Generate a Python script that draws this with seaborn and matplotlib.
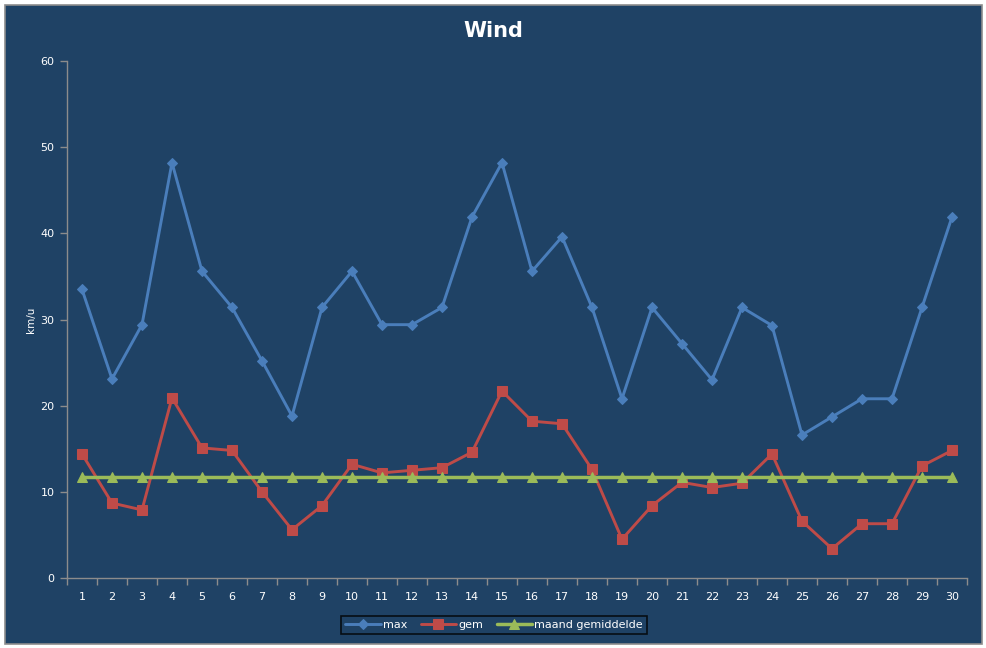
import matplotlib
matplotlib.use("Agg")
import numpy as np
import pandas as pd
import seaborn as sns
from matplotlib import pyplot as plt
from matplotlib.patches import Rectangle
from matplotlib.ticker import FixedLocator

days = list(range(1, 31))
max_wind = [33.5, 23.1, 29.4, 48.2, 35.6, 31.4, 25.2, 18.8, 31.4, 35.6,
            29.4, 29.4, 31.4, 41.9, 48.2, 35.6, 39.6, 31.4, 20.8, 31.4,
            27.2, 23.0, 31.4, 29.3, 16.6, 18.7, 20.8, 20.8, 31.4, 41.9]
gem_wind = [14.4, 8.7, 7.9, 20.9, 15.1, 14.8, 10.0, 5.6, 8.4, 13.2,
            12.2, 12.5, 12.8, 14.6, 21.7, 18.2, 17.9, 12.6, 4.5, 8.4,
            11.1, 10.5, 11.0, 14.4, 6.6, 3.4, 6.3, 6.3, 13.0, 14.8]
maand_gem = [11.7] * 30
y_ticks = [0, 10, 20, 30, 40, 50, 60]

bg = "#1F4265"
txt = "#FFFFFF"
grey = "#8C8C8C"

sns.set_theme(style="white")
plt.rcParams["font.family"] = ["DejaVu Sans"]

fig = plt.figure(figsize=(9.87, 6.48), dpi=100, facecolor="white")
# chart area with grey border, drawn behind the axes
fig.patches.append(Rectangle((5 / 987, 4 / 648), 977 / 987, 639 / 648,
                             transform=fig.transFigure, facecolor=bg,
                             edgecolor=grey, linewidth=1.2, zorder=-10))

ax = fig.add_axes([67 / 987, 1 - 578 / 648, 900 / 987, 517 / 648])
ax.patch.set_alpha(0)

df = pd.DataFrame({"dag": days, "max": max_wind, "gem": gem_wind,
                   "maand gemiddelde": maand_gem})

sns.lineplot(data=df, x="dag", y="max", ax=ax, color="#4A7EBB", lw=2.1,
             marker="D", markersize=5.5, markeredgecolor="#4A7EBB", label="max")
sns.lineplot(data=df, x="dag", y="gem", ax=ax, color="#BE4B48", lw=2.1,
             marker="s", markersize=7.5, markeredgecolor="#BE4B48", label="gem")
sns.lineplot(data=df, x="dag", y="maand gemiddelde", ax=ax, color="#9BBB59",
             lw=2.5, marker="^", markersize=7, markeredgecolor="#9BBB59",
             label="maand gemiddelde")

ax.set_xlim(0.5, 30.5)
ax.set_ylim(0, 60)
ax.set_xticks(days)
ax.set_xticklabels([str(d) for d in days])
ax.xaxis.set_minor_locator(FixedLocator(np.arange(0.5, 31, 1)))
ax.set_yticks(y_ticks)

ax.tick_params(axis="x", which="major", length=0, pad=10, colors=txt, labelsize=8)
ax.tick_params(axis="x", which="minor", length=5, width=1, color=grey, direction="out", bottom=True)
ax.tick_params(axis="y", length=5, width=1, color=grey, direction="out", left=True,
               labelcolor=txt, labelsize=8, pad=4)

for side in ["top", "right"]:
    ax.spines[side].set_visible(False)
for side in ["left", "bottom"]:
    ax.spines[side].set_color(grey)
    ax.spines[side].set_linewidth(1)

ax.set_xlabel("")
ax.set_ylabel("km/u", color=txt, fontsize=7.5, labelpad=3)

fig.text(0.5, 1 - 31 / 648, "Wind", ha="center", va="center",
         color=txt, fontsize=15, fontweight="bold")

ax.get_legend().remove()
handles, labels = ax.get_legend_handles_labels()
leg = fig.legend(handles, labels, loc="center", bbox_to_anchor=(494 / 987, 1 - 625 / 648),
                 ncol=3, frameon=True, fancybox=False, fontsize=8, handlelength=3.2,
                 handletextpad=0.2, columnspacing=1.2, borderpad=0.35)
leg.get_frame().set_facecolor(bg)
leg.get_frame().set_edgecolor("black")
leg.get_frame().set_linewidth(1.2)
for t in leg.get_texts():
    t.set_color(txt)

fig.savefig("out.png", dpi=100, facecolor=fig.get_facecolor())
